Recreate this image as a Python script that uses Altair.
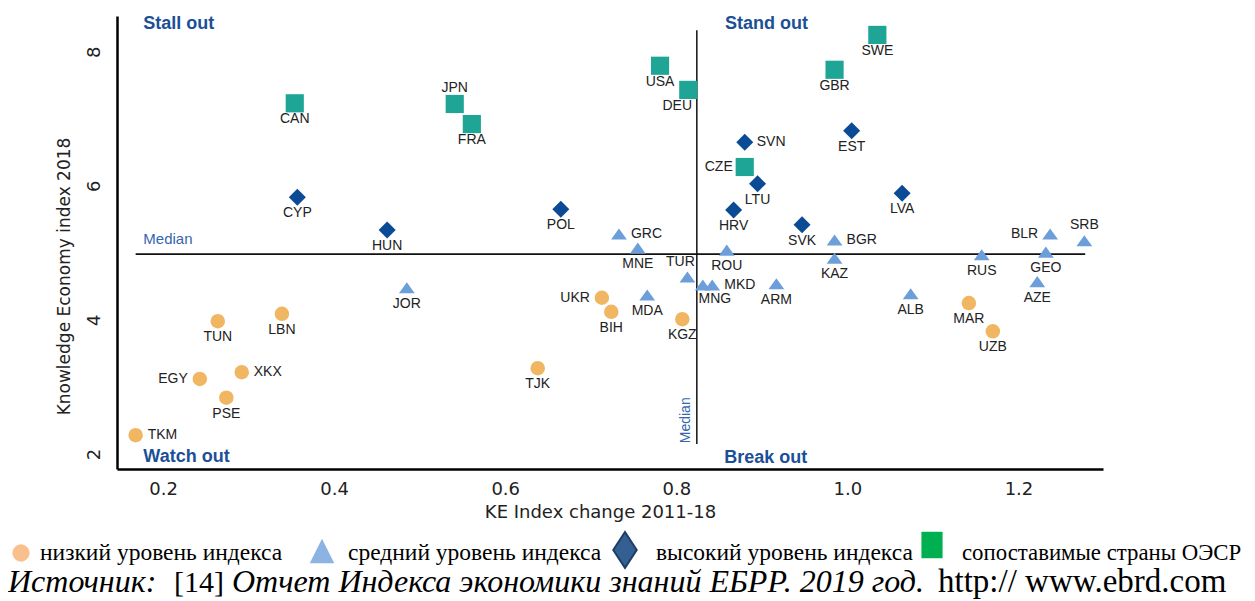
import altair as alt
import pandas as pd

# ---------------- data ----------------
countries = ["CAN", "JPN", "FRA", "USA", "DEU", "SWE", "GBR", "CZE",
             "CYP", "HUN", "POL", "SVN", "LTU", "HRV", "SVK", "EST", "LVA",
             "GRC", "MNE", "TUR", "ROU", "MNG", "MKD", "ARM", "BGR", "KAZ",
             "ALB", "RUS", "BLR", "GEO", "AZE", "SRB", "JOR", "MDA",
             "TUN", "LBN", "XKX", "EGY", "PSE", "TKM", "TJK", "UKR", "BIH",
             "KGZ", "MAR", "UZB"]
ke_change = [0.354, 0.541, 0.561, 0.781, 0.814, 1.035, 0.985, 0.880,
             0.357, 0.462, 0.665, 0.880, 0.895, 0.867, 0.947, 1.005, 1.064,
             0.733, 0.755, 0.813, 0.859, 0.831, 0.842, 0.917, 0.985, 0.985,
             1.074, 1.157, 1.237, 1.232, 1.222, 1.277, 0.485, 0.766,
             0.264, 0.339, 0.292, 0.243, 0.274, 0.168, 0.638, 0.713, 0.724,
             0.807, 1.142, 1.170]
ke_index = [7.23, 7.22, 6.92, 7.79, 7.43, 8.25, 7.73, 6.28,
            5.83, 5.34, 5.65, 6.65, 6.03, 5.64, 5.42, 6.82, 5.89,
            5.28, 5.07, 4.64, 5.04, 4.52, 4.52, 4.54, 5.19, 4.92,
            4.39, 4.97, 5.28, 5.01, 4.57, 5.18, 4.48, 4.37,
            3.98, 4.09, 3.22, 3.12, 2.84, 2.28, 3.28, 4.33, 4.12,
            4.01, 4.25, 3.83]
groups = ["oecd"] * 8 + ["high"] * 9 + ["medium"] * 17 + ["low"] * 12
label_side = ["below", "above", "below", "below", "belowleft", "below", "below", "left",
              "below", "below", "below", "right", "below", "below", "below", "below", "below",
              "right", "below", "aboveleft", "below", "belowright", "right", "below", "right", "below",
              "below", "below", "left", "below", "below", "above", "below", "below",
              "below", "below", "right", "left", "below", "right", "below", "left", "below",
              "below", "below", "below"]

group_order = ["low", "medium", "high", "oecd"]
group_colors = ["#f1b662", "#6c9fd9", "#0b4a94", "#1fa595"]
group_shapes = ["circle", "M0,-0.7L-1,0.7L1,0.7Z", "diamond", "square"]
group_sizes = [210, 330, 340, 256]

median_change = 0.824
median_index = 4.98

x_ticks = [0.2, 0.4, 0.6, 0.8, 1.0, 1.2]
y_ticks = [2, 4, 6, 8]

legend_labels = ["низкий уровень индекса", "средний уровень индекса",
                 "высокий уровень индекса", "сопоставимые страны ОЭСР"]

df = pd.DataFrame({"country": countries, "chg": ke_change, "idx": ke_index,
                   "group": groups, "side": label_side})
one = pd.DataFrame({"a": [0]})

xscale = alt.Scale(domain=[0.1462, 1.2988], nice=False, zero=False)
yscale = alt.Scale(domain=[1.776, 8.532], nice=False, zero=False)

LABEL_FONT = "Liberation Sans"
TXT = "#222222"
QBLUE = "#1b4f96"
MBLUE = "#3566ad"

# ---------------- points ----------------
points = alt.Chart(df).mark_point(filled=True, opacity=1, strokeWidth=0).encode(
    x=alt.X("chg:Q", scale=xscale,
            axis=alt.Axis(values=x_ticks, format=".1f", title="KE Index change 2011-18",
                          ticks=False, grid=False, domainColor="#000000", domainWidth=2.5,
                          labelPadding=11, titlePadding=5, titleX=483)),
    y=alt.Y("idx:Q", scale=yscale,
            axis=alt.Axis(values=y_ticks, format="d", title="Knowledge Economy index 2018",
                          ticks=False, grid=False, domainColor="#000000", domainWidth=2.5,
                          labelAngle=270, labelPadding=14, titlePadding=12, titleY=260)),
    fill=alt.Fill("group:N", scale=alt.Scale(domain=group_order, range=group_colors), legend=None),
    shape=alt.Shape("group:N", scale=alt.Scale(domain=group_order, range=group_shapes), legend=None),
    size=alt.Size("group:N", scale=alt.Scale(domain=group_order, range=group_sizes), legend=None),
)

offsets = {
    "below": (0, 16, "center"),
    "above": (0, -16, "center"),
    "right": (12, 0, "left"),
    "left": (-12, 0, "right"),
    "belowleft": (-11, 16, "center"),
    "belowright": (12, 14, "center"),
    "aboveleft": (-7, -15, "center"),
}
label_layers = []
for side, (dx, dy, al) in offsets.items():
    label_layers.append(
        alt.Chart(df).transform_filter(alt.datum.side == side).mark_text(
            font=LABEL_FONT, fontSize=14, color=TXT, dx=dx, dy=dy, align=al, baseline="middle"
        ).encode(x="chg:Q", y="idx:Q", text="country:N")
    )

# ---------------- median lines ----------------
hline = alt.Chart(one).mark_rule(color="#111111", strokeWidth=1.8).encode(
    x=alt.datum(0.168), x2=alt.datum(1.278), y=alt.datum(median_index))
vline = alt.Chart(one).mark_rule(color="#111111", strokeWidth=1.5).encode(
    x=alt.datum(median_change), y=alt.datum(2.15), y2=alt.datum(8.32))
hmed = alt.Chart(one).mark_text(text="Median", font=LABEL_FONT, fontSize=15, color=MBLUE,
                                align="left", baseline="middle").encode(
    x=alt.datum(0.177), y=alt.datum(5.21))
vmed = alt.Chart(one).mark_text(text="Median", font=LABEL_FONT, fontSize=14, color=MBLUE,
                                align="left", baseline="middle", angle=270).encode(
    x=alt.datum(0.811), y=alt.datum(2.16))


def quad(text, x, y):
    return alt.Chart(one).mark_text(text=text, font=LABEL_FONT, fontSize=18, fontWeight="bold",
                                    color=QBLUE, align="left", baseline="middle").encode(
        x=alt.datum(x), y=alt.datum(y))


quads = [quad("Stall out", 0.177, 8.41), quad("Stand out", 0.857, 8.41),
         quad("Watch out", 0.177, 1.955), quad("Break out", 0.856, 1.94)]

# ---------------- legend & source (below plot) ----------------
SERIF = "Liberation Serif"


def sym(shape, size, fill, x, y, stroke=None):
    kw = dict(shape=shape, size=size, filled=True, fill=fill, opacity=1)
    if stroke:
        kw.update(stroke=stroke, strokeWidth=2)
    else:
        kw.update(strokeWidth=0)
    return alt.Chart(one).mark_point(**kw).encode(x=alt.value(x), y=alt.value(y))


def txt(text, x, y, size, style="normal"):
    return alt.Chart(one).mark_text(text=text, font=SERIF, fontSize=size, fontStyle=style,
                                    color="#000000", align="left", baseline="alphabetic").encode(
        x=alt.value(x), y=alt.value(y))


legend_layers = [
    sym("circle", 300, "#f9bf8c", -96, 537),
    txt(legend_labels[0], -77, 544, 23.5),
    sym("M0,-1L-1,1L1,1Z", 600, "#8db3e2", 205, 535),
    txt(legend_labels[1], 231, 544, 23.5),
    sym("M0,-1L-0.65,0L0,1L0.65,0Z", 1300, "#335f92", 508, 534, stroke="#1f3c66"),
    txt(legend_labels[2], 539, 544, 23.5),
    sym("M-0.8,-1H0.8V1H-0.8Z", 700, "#00b050", 815, 529),
    txt(legend_labels[3], 845, 544, 22.8),
    txt("Источник:", -109, 576, 32, "italic"),
    txt("[14]", 57, 576, 30),
    txt("Отчет Индекса экономики знаний ЕБРР. 2019 год.", 115, 576, 32, "italic"),
    txt("http:// www.ebrd.com", 821, 576, 33),
]

chart = alt.layer(
    hline, vline, hmed, vmed, *quads, points, *label_layers, *legend_layers
).properties(
    width=986, height=453,
    autosize=alt.AutoSizeParams(type="none"),
    padding={"left": 109, "top": 8, "right": 144, "bottom": 132},
).configure_view(strokeWidth=0).configure_axis(
    labelFont="DejaVu Sans", labelFontSize=18, labelColor="#222222",
    titleFont="DejaVu Sans", titleFontSize=18, titleFontWeight="normal", titleColor="#222222",
).configure_axisY(titleFontSize=17)

chart.save("out.html", embed_options={"renderer": "svg", "actions": False})
